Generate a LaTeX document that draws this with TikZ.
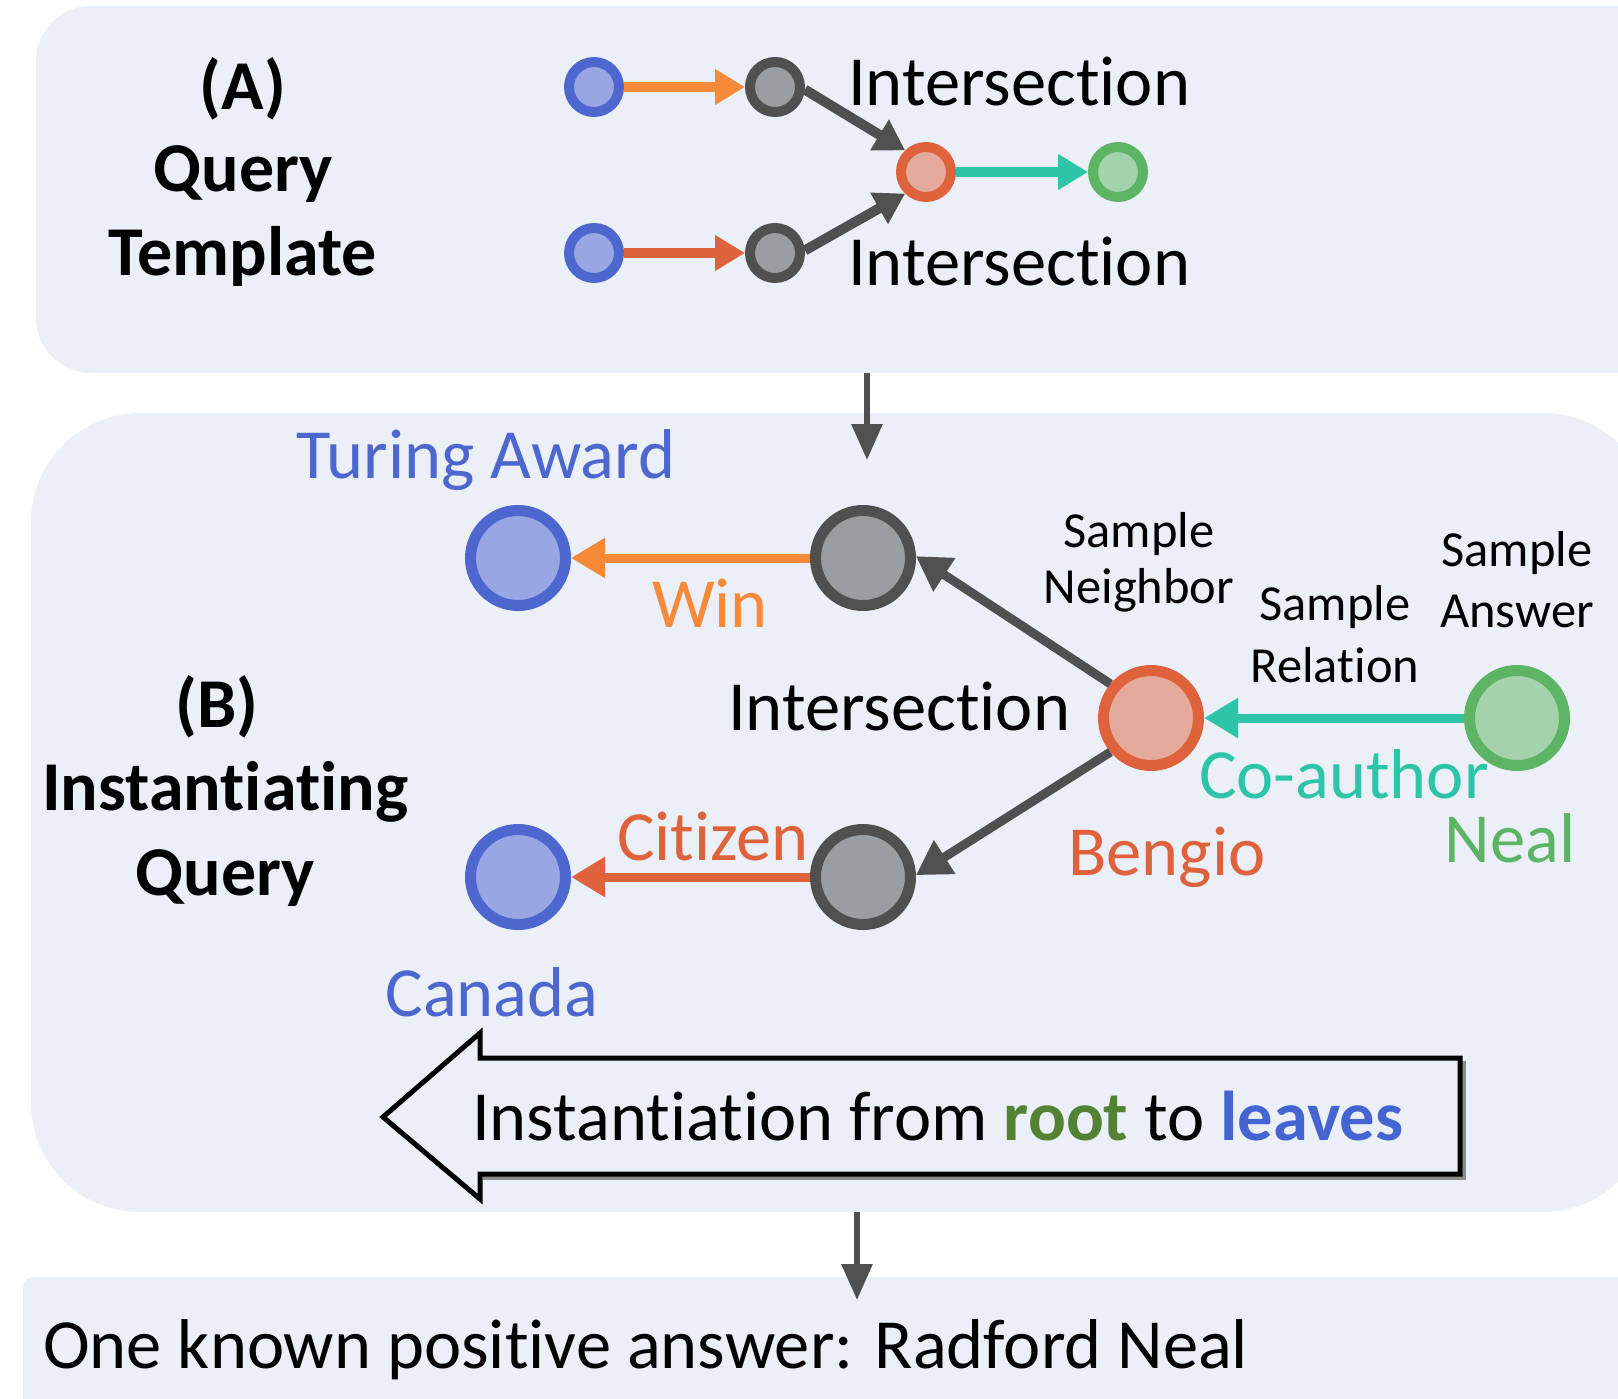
\documentclass[tikz,border=0pt]{standalone}
\usepackage{fontspec}
\setmainfont{Carlito}[Ligatures=NoCommon]
\usetikzlibrary{arrows.meta}

\definecolor{panelbg}{RGB}{235,239,248}
\definecolor{bluefill}{RGB}{152,167,228}
\definecolor{blueline}{RGB}{77,103,207}
\definecolor{grayfill}{RGB}{155,158,160}
\definecolor{grayline}{RGB}{80,80,80}
\definecolor{redfill}{RGB}{228,170,155}
\definecolor{redline}{RGB}{222,98,60}
\definecolor{greenfill}{RGB}{164,210,170}
\definecolor{greenline}{RGB}{92,180,100}
\definecolor{orangec}{RGB}{247,138,56}
\definecolor{tealc}{RGB}{46,196,168}
\definecolor{darkc}{RGB}{80,80,80}
\definecolor{rootgreen}{RGB}{84,130,53}
\definecolor{leafblue}{RGB}{68,100,210}

\begin{document}
\begin{tikzpicture}[x=1pt,y=-1pt,
  panel/.style={fill=panelbg,draw=none},
  % entity circles, large (B) and small (A)
  bnode/.style={circle,minimum size=95pt,inner sep=0pt,line width=11pt},
  anode/.style={circle,minimum size=50pt,inner sep=0pt,line width=10pt},
  qblue/.style={fill=bluefill,draw=blueline},
  qgray/.style={fill=grayfill,draw=grayline},
  qred/.style={fill=redfill,draw=redline},
  qgreen/.style={fill=greenfill,draw=greenline},
  bedge/.style={line width=9pt,-{Triangle[length=34pt,width=38pt]}},
  aedge/.style={line width=10pt,-{Triangle[length=30pt,width=34pt]}},
  vedge/.style={line width=6pt,draw=darkc,-{Triangle[length=36pt,width=30pt]}},
  big/.style={font=\fontsize{70.5}{84}\selectfont,inner sep=0pt},
  small/.style={font=\fontsize{50.5}{59}\selectfont,inner sep=0pt},
  heading/.style={font=\fontsize{70}{84}\selectfont\bfseries,inner sep=0pt},
]
\useasboundingbox (0,0) rectangle (1618,1399);
\clip (0,0) rectangle (1618,1399);

% panels
\fill[panel,rounded corners=55pt] (36,6) rectangle (1720,373);
\fill[panel,rounded corners=109pt] (31,413) rectangle (1652,1212);
\fill[panel,rounded corners=10pt] (23,1277) rectangle (1720,1460);

% ---------- (A) query template ----------
\node[heading,anchor=base] (ha1) at (243,110) {(A)};
\node[heading,anchor=base] (ha2) at (243,192) {Query};
\node[heading,anchor=base] (ha3) at (243,276) {Template};

\node[anode,qblue]  (b1)  at (594,87)  {};
\node[anode,qgray]  (ga1) at (775,87)  {};
\node[anode,qred]   (r)   at (926,172) {};
\node[anode,qgreen] (gr)  at (1118,172) {};
\node[anode,qblue]  (b2)  at (594,253) {};
\node[anode,qgray]  (ga2) at (775,253) {};

\node[big,anchor=base west] (ia1) at (848,106) {Intersection};
\node[big,anchor=base west] (ia2) at (848,286) {Intersection};

\draw[aedge,draw=orangec] (b1) -- (ga1);
\draw[aedge,draw=redline] (b2) -- (ga2);
\draw[aedge,draw=darkc] (ga1.355) -- (r.134);
\draw[aedge,draw=darkc] (ga2.5) -- (r.226);
\draw[aedge,draw=tealc] (r) -- (gr);

% arrow from panel A to panel B
\coordinate (ab1) at (867,373);
\coordinate (ab2) at (867,460);
\draw[vedge] (ab1) -- (ab2);

% ---------- (B) instantiating query ----------
\node[heading,anchor=base] (hb1) at (217,727) {(B)};
\node[heading,anchor=base] (hb2) at (225,810) {Instantiating};
\node[heading,anchor=base] (hb3) at (225,895) {Query};

\node[bnode,qblue]  (ta)   at (518,558) {};
\node[bnode,qgray]  (g1)   at (863,558) {};
\node[bnode,qred]   (ben)  at (1151,718) {};
\node[bnode,qgreen] (neal) at (1517,718) {};
\node[bnode,qgray]  (g2)   at (863,877) {};
\node[bnode,qblue]  (ca)   at (518,877) {};

\draw[bedge,draw=orangec] (g1) -- (ta);
\draw[bedge,draw=darkc] (ben.140) -- (g1.2);
\draw[bedge,draw=darkc] (ben.220) -- (g2.2);
\draw[bedge,draw=redline] (g2) -- (ca);
\draw[bedge,draw=tealc] (neal) -- (ben);

\node[big,anchor=base,text=blueline] (lta) at (486,478) {Turing Award};
\node[big,anchor=base,text=orangec] (lwin) at (710,627) {Win};
\node[big,anchor=base west] (lint) at (728,730) {Intersection};
\node[big,anchor=base,text=redline] (lcit) at (713,860) {Citizen};
\node[big,anchor=base,text=blueline] (lcan) at (492,1016) {Canada};
\node[big,anchor=base,text=redline] (lben) at (1167,875) {Bengio};
\node[big,anchor=base,text=tealc] (lco) at (1344,798) {Co-author};
\node[big,anchor=base,text=greenline] (lneal) at (1510,862) {Neal};

\node[small,anchor=base] (sn1) at (1139,547) {Sample};
\node[small,anchor=base] (sn2) at (1139,603) {Neighbor};
\node[small,anchor=base] (sr1) at (1335,620) {Sample};
\node[small,anchor=base] (sr2) at (1335,682) {Relation};
\node[small,anchor=base] (sa1) at (1517,566) {Sample};
\node[small,anchor=base] (sa2) at (1517,627) {Answer};

% block arrow: instantiation direction
\draw[line width=5pt,draw=black!45,line join=miter]
  (1463,1061) -- (1463,1177) -- (483,1177);
\draw[line width=5pt,draw=black,fill=panelbg,line join=miter]
  (1460,1058) -- (480,1058) -- (480,1033) -- (383,1117) -- (480,1199)
  -- (480,1174) -- (1460,1174) -- cycle;
\node[big,anchor=base west] (inst) at (472,1140)
  {Instantiation from {\bfseries\color{rootgreen}root} to {\bfseries\color{leafblue}leaves}};

% arrow from panel B to the answer
\coordinate (bc1) at (857,1212);
\coordinate (bc2) at (857,1300);
\draw[vedge] (bc1) -- (bc2);

% ---------- answer ----------
\node[big,anchor=base west] (ans) at (43,1368) {One known positive answer: Radford Neal};
\end{tikzpicture}
\end{document}
